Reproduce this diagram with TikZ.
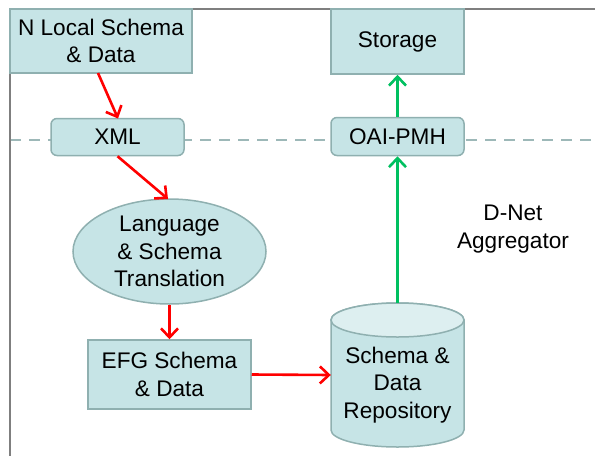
\documentclass[tikz,border=0pt]{standalone}
\usepackage{fontspec}
\setmainfont{Liberation Sans}
\usetikzlibrary{arrows.meta,shapes.geometric}
\definecolor{boxfill}{HTML}{C6E4E6}
\definecolor{boxdraw}{HTML}{8FB0B0}
\definecolor{topfill}{HTML}{DDEFF0}
\definecolor{dashc}{HTML}{9DB8B8}
\definecolor{framec}{HTML}{7F7F7F}
\definecolor{redc}{HTML}{FF0000}
\definecolor{greenc}{HTML}{00C060}
\begin{document}
\begin{tikzpicture}[x=1pt,y=-1pt,
  every node/.style={font=\fontsize{22.6}{27.5}\selectfont, align=center, inner sep=0pt},
  sqbox/.style={draw=boxdraw, fill=boxfill, line width=1.5pt, rectangle},
  rbox/.style={draw=boxdraw, fill=boxfill, line width=1.5pt, rectangle, rounded corners=6pt},
  redarrow/.style={draw=redc, line width=2.6pt, -{Straight Barb[length=9pt,width=17pt,line width=2.6pt]}},
  greenarrow/.style={draw=greenc, line width=2.6pt, -{Straight Barb[length=9pt,width=17pt,line width=2.6pt]}}]
\useasboundingbox (0,0) rectangle (595,456);
\fill[white] (0,0) rectangle (595,456);
% dashed separator
\draw[dashc, line width=1.8pt, dash pattern=on 11pt off 8pt] (10,140) -- (595,140);
% frame
\draw[framec, line width=1.6pt] (595,9) -- (10,9) -- (10,456);
% nodes
\node[sqbox, minimum width=182pt, minimum height=64pt] (local) at (101,41) {N Local Schema\\\& Data};
\node[rbox, minimum width=133pt, minimum height=37pt] (xml) at (117.5,137) {XML};
\node[ellipse, draw=boxdraw, fill=boxfill, line width=1.5pt, minimum width=193pt, minimum height=105pt] (lang) at (169.5,251.5) {Language\\\& Schema\\Translation};
\node[sqbox, minimum width=163pt, minimum height=69pt] (efg) at (169.5,374.5) {EFG Schema\\\& Data};
\node[sqbox, minimum width=133pt, minimum height=65pt] (storage) at (397.5,41.5) {Storage};
\node[rbox, minimum width=133pt, minimum height=38pt] (oai) at (397.5,136.5) {OAI-PMH};
% cylinder
\node[minimum width=133pt, minimum height=144pt] (repo) at (397.5,375) {};
\fill[boxfill, draw=boxdraw, line width=1.5pt] (331,320) -- (331,430) arc[start angle=180, end angle=360, x radius=66.5pt, y radius=17pt] -- (464,320) arc[start angle=0, end angle=180, x radius=66.5pt, y radius=17pt] -- cycle;
\draw[fill=topfill, draw=boxdraw, line width=1.5pt] (397.5,320) ellipse[x radius=66.5pt, y radius=17pt];
\node at (397.5,385) {Schema \&\\Data\\Repository};
\node (dnet) at (513,229) {D-Net\\Aggregator};
% connectors
\draw[redarrow] (98,73) -- (118,118.5);
\draw[redarrow] (xml.south) ++(0,0) -- (168,199);
\draw[redarrow] (lang.south) -- (efg.north);
\draw[redarrow] (efg.east) -- (repo.west);
\draw[greenarrow] (repo.north) -- (oai.south);
\draw[greenarrow] (oai.north) -- (storage.south);
\end{tikzpicture}
\end{document}
